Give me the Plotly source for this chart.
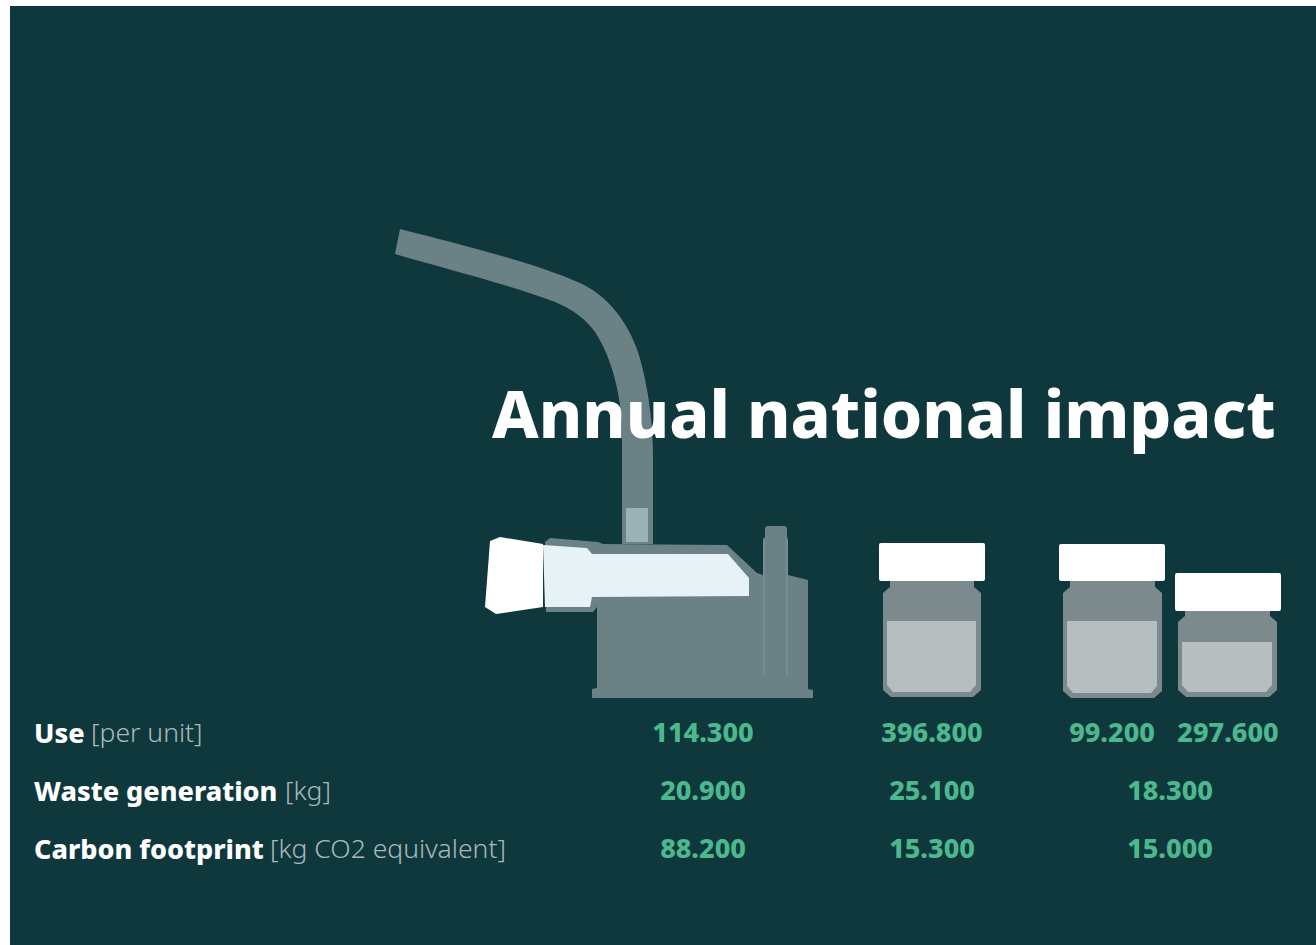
import plotly.graph_objects as go

TITLE = "Annual national impact"
ROW_NAMES = ["Use", "Waste generation", "Carbon footprint"]
ROW_UNITS = ["[per unit]", "[kg]", "[kg CO2 equivalent]"]
USE_VALUES = ["114.300", "396.800", "99.200", "297.600"]
WASTE_VALUES = ["20.900", "25.100", "18.300"]
CARBON_VALUES = ["88.200", "15.300", "15.000"]

BG = "#0f383d"
BODY = "#6a8185"
EDGE = "#768e91"
LIGHT = "#e6f2f5"
JAR = "#7c8a8e"
FILL = "#b8bdc0"
GREEN = "#4cb88d"
MUTED = "#a9b9bb"
FONT = "Noto Sans"

ROW_Y = [732, 790, 848]
UNIT_X = [89, 283, 268]
USE_X = [703, 932, 1112, 1228]
MERGED_X = [703, 932, 1170]

shapes = []


def poly(points, color, layer="below"):
    d = "M " + " L ".join(f"{x} {y}" for x, y in points) + " Z"
    shapes.append(dict(type="path", path=d, fillcolor=color, line_width=0,
                       xref="x", yref="y", layer=layer))


def rounded(x0, y0, x1, y1, r, color):
    d = (f"M {x0+r} {y0} L {x1-r} {y0} Q {x1} {y0} {x1} {y0+r} L {x1} {y1-r} "
         f"Q {x1} {y1} {x1-r} {y1} L {x0+r} {y1} Q {x0} {y1} {x0} {y1-r} "
         f"L {x0} {y0+r} Q {x0} {y0} {x0+r} {y0} Z")
    shapes.append(dict(type="path", path=d, fillcolor=color, line_width=0,
                       xref="x", yref="y", layer="below"))


# panel
shapes.append(dict(type="rect", x0=10, x1=1316, y0=6, y1=945, fillcolor=BG,
                   line_width=0, xref="x", yref="y", layer="below"))

# tube
shapes.append(dict(
    type="path",
    path=("M 400 229 C 470 247 535 263 580 283 C 607 295 628 322 638 352 "
          "C 646 378 653 415 653 455 L 653 544 L 622 544 L 622 430 "
          "C 621 395 612 358 595 332 C 585 318 572 309 555 302 "
          "C 510 285 450 270 395 254 Z"),
    fillcolor=BODY, line_width=0, xref="x", yref="y", layer="below"))
poly([(626, 508), (648, 508), (648, 542), (626, 542)], "#9ab2b6")

# device body
poly([(545, 542), (550, 538), (598, 542), (603, 544), (727, 545), (757, 573),
      (763, 575), (763, 539), (765, 537), (765, 528), (767, 526), (785, 526), (787, 528),
      (787, 537), (788, 539), (788, 575),
      (808, 580), (808, 689), (813, 690), (813, 698), (592, 698), (592, 689),
      (597, 688), (597, 607), (593, 612), (546, 612)], BODY)
shapes.append(dict(type="line", x0=764, x1=764, y0=540, y1=675, xref="x", yref="y",
                   line=dict(color=EDGE, width=2), layer="below"))
shapes.append(dict(type="line", x0=787, x1=787, y0=540, y1=675, xref="x", yref="y",
                   line=dict(color=EDGE, width=2), layer="below"))
poly([(543, 545), (587, 548), (592, 554), (728, 554), (749, 578), (749, 596),
      (592, 597), (590, 607), (545, 607)], LIGHT)
poly([(490, 541), (500, 537), (543, 544), (543, 607), (496, 614), (485, 607)], "#ffffff")


def jar(x0, x1, top, shoulder, level, bottom):
    poly([(x0 + 7, top), (x0 + 7, shoulder - 6), (x0, shoulder), (x0, bottom - 7),
          (x0 + 8, bottom), (x1 - 8, bottom), (x1, bottom - 7), (x1, shoulder),
          (x1 - 7, shoulder - 6), (x1 - 7, top)], JAR)
    poly([(x0 + 4, level), (x1 - 5, level), (x1 - 5, bottom - 12), (x1 - 11, bottom - 5),
          (x0 + 10, bottom - 5), (x0 + 4, bottom - 12)], FILL)


jar(883, 981, 581, 593, 621, 697)
rounded(879, 543, 985, 581, 2, "#ffffff")
jar(1063, 1162, 581, 593, 621, 698)
rounded(1059, 544, 1165, 581, 2, "#ffffff")
jar(1178, 1277, 611, 622, 642, 697)
rounded(1175, 573, 1281, 611, 2, "#ffffff")

fig = go.Figure()

all_x = USE_X + MERGED_X + MERGED_X
all_y = [ROW_Y[0]] * 4 + [ROW_Y[1]] * 3 + [ROW_Y[2]] * 3
all_text = USE_VALUES + WASTE_VALUES + CARBON_VALUES
fig.add_trace(go.Scatter(
    x=all_x, y=[v + 3 for v in all_y], text=all_text, mode="text", textposition="middle center",
    textfont=dict(family=FONT, size=27, color=GREEN, weight=800),
    hoverinfo="skip", showlegend=False))

annotations = [dict(
    x=1278, y=412, xref="x", yref="y", xanchor="right", yanchor="middle",
    text=TITLE, showarrow=False,
    font=dict(family=FONT, size=66, color="#ffffff", weight=800))]
for name, unit, ux, y in zip(ROW_NAMES, ROW_UNITS, UNIT_X, ROW_Y):
    annotations.append(dict(
        x=32, y=y, xref="x", yref="y", xanchor="left", yanchor="middle",
        text=name, showarrow=False,
        font=dict(family=FONT, size=27, color="#ffffff", weight=800)))
    annotations.append(dict(
        x=ux, y=y, xref="x", yref="y", xanchor="left", yanchor="middle",
        text=unit, showarrow=False,
        font=dict(family=FONT, size=26.5, color=MUTED, weight=300)))

fig.update_layout(
    width=1316, height=945, margin=dict(l=0, r=0, t=0, b=0),
    paper_bgcolor="#ffffff", plot_bgcolor="#ffffff",
    xaxis=dict(range=[0, 1316], visible=False, fixedrange=True),
    yaxis=dict(range=[945, 0], visible=False, fixedrange=True),
    shapes=shapes, annotations=annotations, showlegend=False)

fig.write_html("out.html", post_script="document.body.style.margin='0';",
               config={"displayModeBar": False})
